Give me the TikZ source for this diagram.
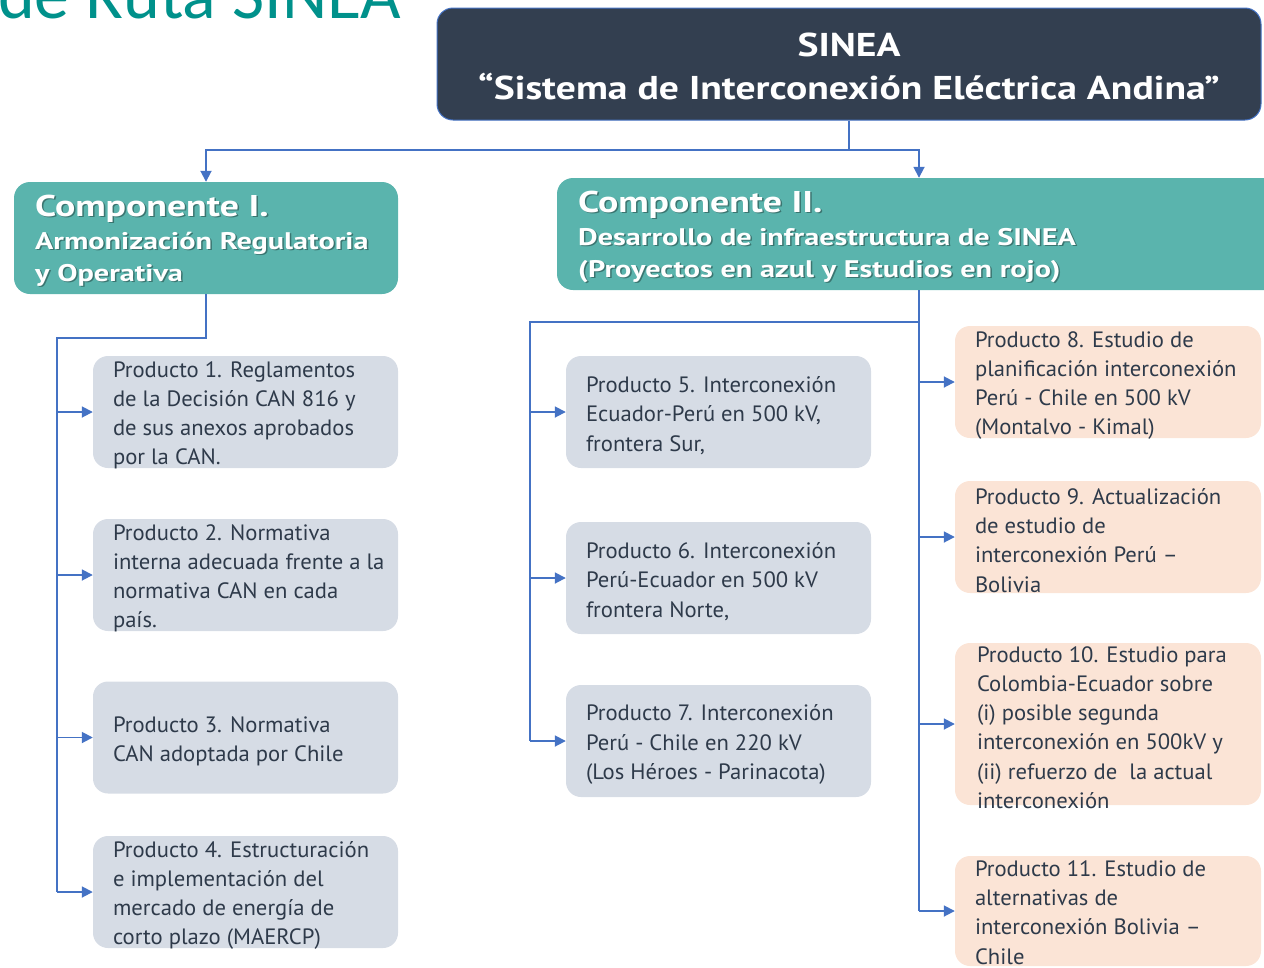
\documentclass[tikz,border=0pt]{standalone}
\usepackage{fontspec}
\setmainfont{PT Sans}
\newfontfamily\titlefont{Carlito}
\newfontfamily\topfont{PT Sans}[FakeStretch=1.2]
\newfontfamily\compfont{PT Sans}[FakeStretch=1.26]
\newfontfamily\prodfont{PT Sans}[FakeStretch=1.02]
\usetikzlibrary{arrows.meta,calc}
\definecolor{navy}{HTML}{333F50}
\definecolor{tealc}{HTML}{5AB4AD}
\definecolor{tealt}{HTML}{00918B}
\definecolor{prodg}{HTML}{D6DCE5}
\definecolor{prodp}{HTML}{FBE4D6}
\definecolor{linkc}{HTML}{4472C4}
\definecolor{ptxtc}{HTML}{2E3A4A}
\begin{document}
\begin{tikzpicture}[x=1pt,y=-1pt,
  topbox/.style={draw=linkc,line width=1pt,fill=navy,rounded corners=16pt,minimum width=824pt,minimum height=112pt,inner sep=0pt},
  compbox/.style={fill=tealc,rounded corners=16pt,inner sep=0pt,minimum height=112pt},
  gbox/.style={fill=prodg,rounded corners=15pt,inner sep=0pt,minimum width=305pt,minimum height=112pt},
  pbox/.style={fill=prodp,rounded corners=15pt,inner sep=0pt,minimum width=306pt,minimum height=112pt},
  ptxt/.style={anchor=west,align=left,inner sep=0pt,yshift=-3.5pt,text=ptxtc,font=\prodfont\fontsize{22.2}{29.2}\selectfont},
  toptxt/.style={anchor=base,inner sep=0pt,text=white,font=\topfont\bfseries\fontsize{33}{33}\selectfont},
  ctxt/.style={anchor=base west,inner sep=0pt,text=white,font=\compfont\bfseries\fontsize{#1}{#1}\selectfont},
  cshad/.style={anchor=base west,inner sep=0pt,text=black,opacity=0.35,font=\compfont\bfseries\fontsize{#1}{#1}\selectfont},
  conn/.style={draw=linkc,line width=1.8pt},
  arr/.style={conn,-{Triangle[length=11pt,width=11pt]}}
]
\useasboundingbox (0,0) rectangle (1264,967);
\clip (0,0) rectangle (1264,967);

% title
\node[anchor=base west,inner sep=0pt,text=tealt,font=\titlefont\fontsize{70}{70}\selectfont] (title) at (-2,18) {de Ruta SINEA};

% top box
\node[topbox] (top) at (849,64) {};
\node[toptxt] (topt1) at (849,56) {SINEA};
\node[toptxt] (topt2) at (849,99) {“Sistema de Interconexión Eléctrica Andina”};

% component boxes
\node[compbox,minimum width=384pt] (c1) at (206,238) {};
\node[compbox,minimum width=724pt] (c2) at (919,234) {};

\foreach \t/\s/\x/\y [count=\i] in {Componente I./30/35/216, Armonización Regulatoria/24/35/249, y Operativa/24/35/281,
  Componente II./30/578/212, Desarrollo de infraestructura de SINEA/24/578/245, (Proyectos en azul y Estudios en rojo)/24/578/277}{
  \node[cshad=\s] (cs\i) at (\x+1.5,\y+1.5) {\t};
  \node[ctxt=\s] (ct\i) at (\x,\y) {\t};
}

% product boxes column 1
\node[gbox] (p1) at (245.5,412) {};
\node[gbox] (p2) at (245.5,575) {};
\node[gbox] (p3) at (245.5,737.5) {};
\node[gbox] (p4) at (245.5,892) {};
% column 2
\node[gbox] (p5) at (718.5,412) {};
\node[gbox] (p6) at (718.5,578) {};
\node[gbox] (p7) at (718.5,741) {};
% column 3
\node[pbox] (p8) at (1108,382) {};
\node[pbox] (p9) at (1108,537) {};
\node[pbox,minimum height=162pt] (p10) at (1108,724) {};
\node[pbox,minimum height=110pt] (p11) at (1108,911) {};

\node[ptxt] (t1) at ([xshift=20pt]p1.west) {Producto 1. Reglamentos\\de la Decisión CAN 816 y\\de sus anexos aprobados\\por la CAN.};
\node[ptxt] (t2) at ([xshift=20pt]p2.west) {Producto 2. Normativa\\interna adecuada frente a la\\normativa CAN en cada\\país.};
\node[ptxt] (t3) at ([xshift=20pt]p3.west) {Producto 3. Normativa\\CAN adoptada por Chile};
\node[ptxt] (t4) at ([xshift=20pt]p4.west) {Producto 4. Estructuración\\e implementación del\\mercado de energía de\\corto plazo (MAERCP)};
\node[ptxt] (t5) at ([xshift=20pt]p5.west) {Producto 5. Interconexión\\Ecuador-Perú en 500 kV,\\frontera Sur,};
\node[ptxt] (t6) at ([xshift=20pt]p6.west) {Producto 6. Interconexión\\Perú-Ecuador en 500 kV\\frontera Norte,};
\node[ptxt] (t7) at ([xshift=20pt]p7.west) {Producto 7. Interconexión\\Perú - Chile en 220 kV\\(Los Héroes - Parinacota)};
\node[ptxt] (t8) at ([xshift=20pt]p8.west) {Producto 8. Estudio de\\planificación interconexión\\Perú - Chile en 500 kV\\(Montalvo - Kimal)};
\node[ptxt] (t9) at ([xshift=20pt]p9.west) {Producto 9. Actualización\\de estudio de\\interconexión Perú –\\Bolivia};
\node[ptxt] (t10) at ([xshift=22pt]p10.west) {Producto 10. Estudio para\\Colombia-Ecuador sobre\\(i) posible segunda\\interconexión en 500kV y\\(ii) refuerzo de~ la actual\\interconexión};
\node[ptxt,yshift=2pt] (t11) at ([xshift=20pt]p11.west) {Producto 11. Estudio de\\alternativas de\\interconexión Bolivia –\\Chile};

% connectors
\coordinate (j) at (849,150);
\draw[conn] (top.south) -- (j);
\draw[arr] (j) -| (c1.north);
\draw[arr] (j) -| (c2.north);

\coordinate (lb) at (57,338);
\draw[conn] (c1.south) |- (lb) -- (lb |- p4.west);
\foreach \p in {p1,p2,p3,p4} \draw[arr] (lb |- \p.west) -- (\p.west);

\coordinate (mb) at (530,322);
\draw[conn] (c2.south) |- (mb) -- (mb |- p7.west);
\foreach \p in {p5,p6,p7} \draw[arr] (mb |- \p.west) -- (\p.west);

\draw[conn] (c2.south) -- (c2.south |- p11.west);
\foreach \p in {p8,p9,p10,p11} \draw[arr] (c2.south |- \p.west) -- (\p.west);
\end{tikzpicture}
\end{document}
